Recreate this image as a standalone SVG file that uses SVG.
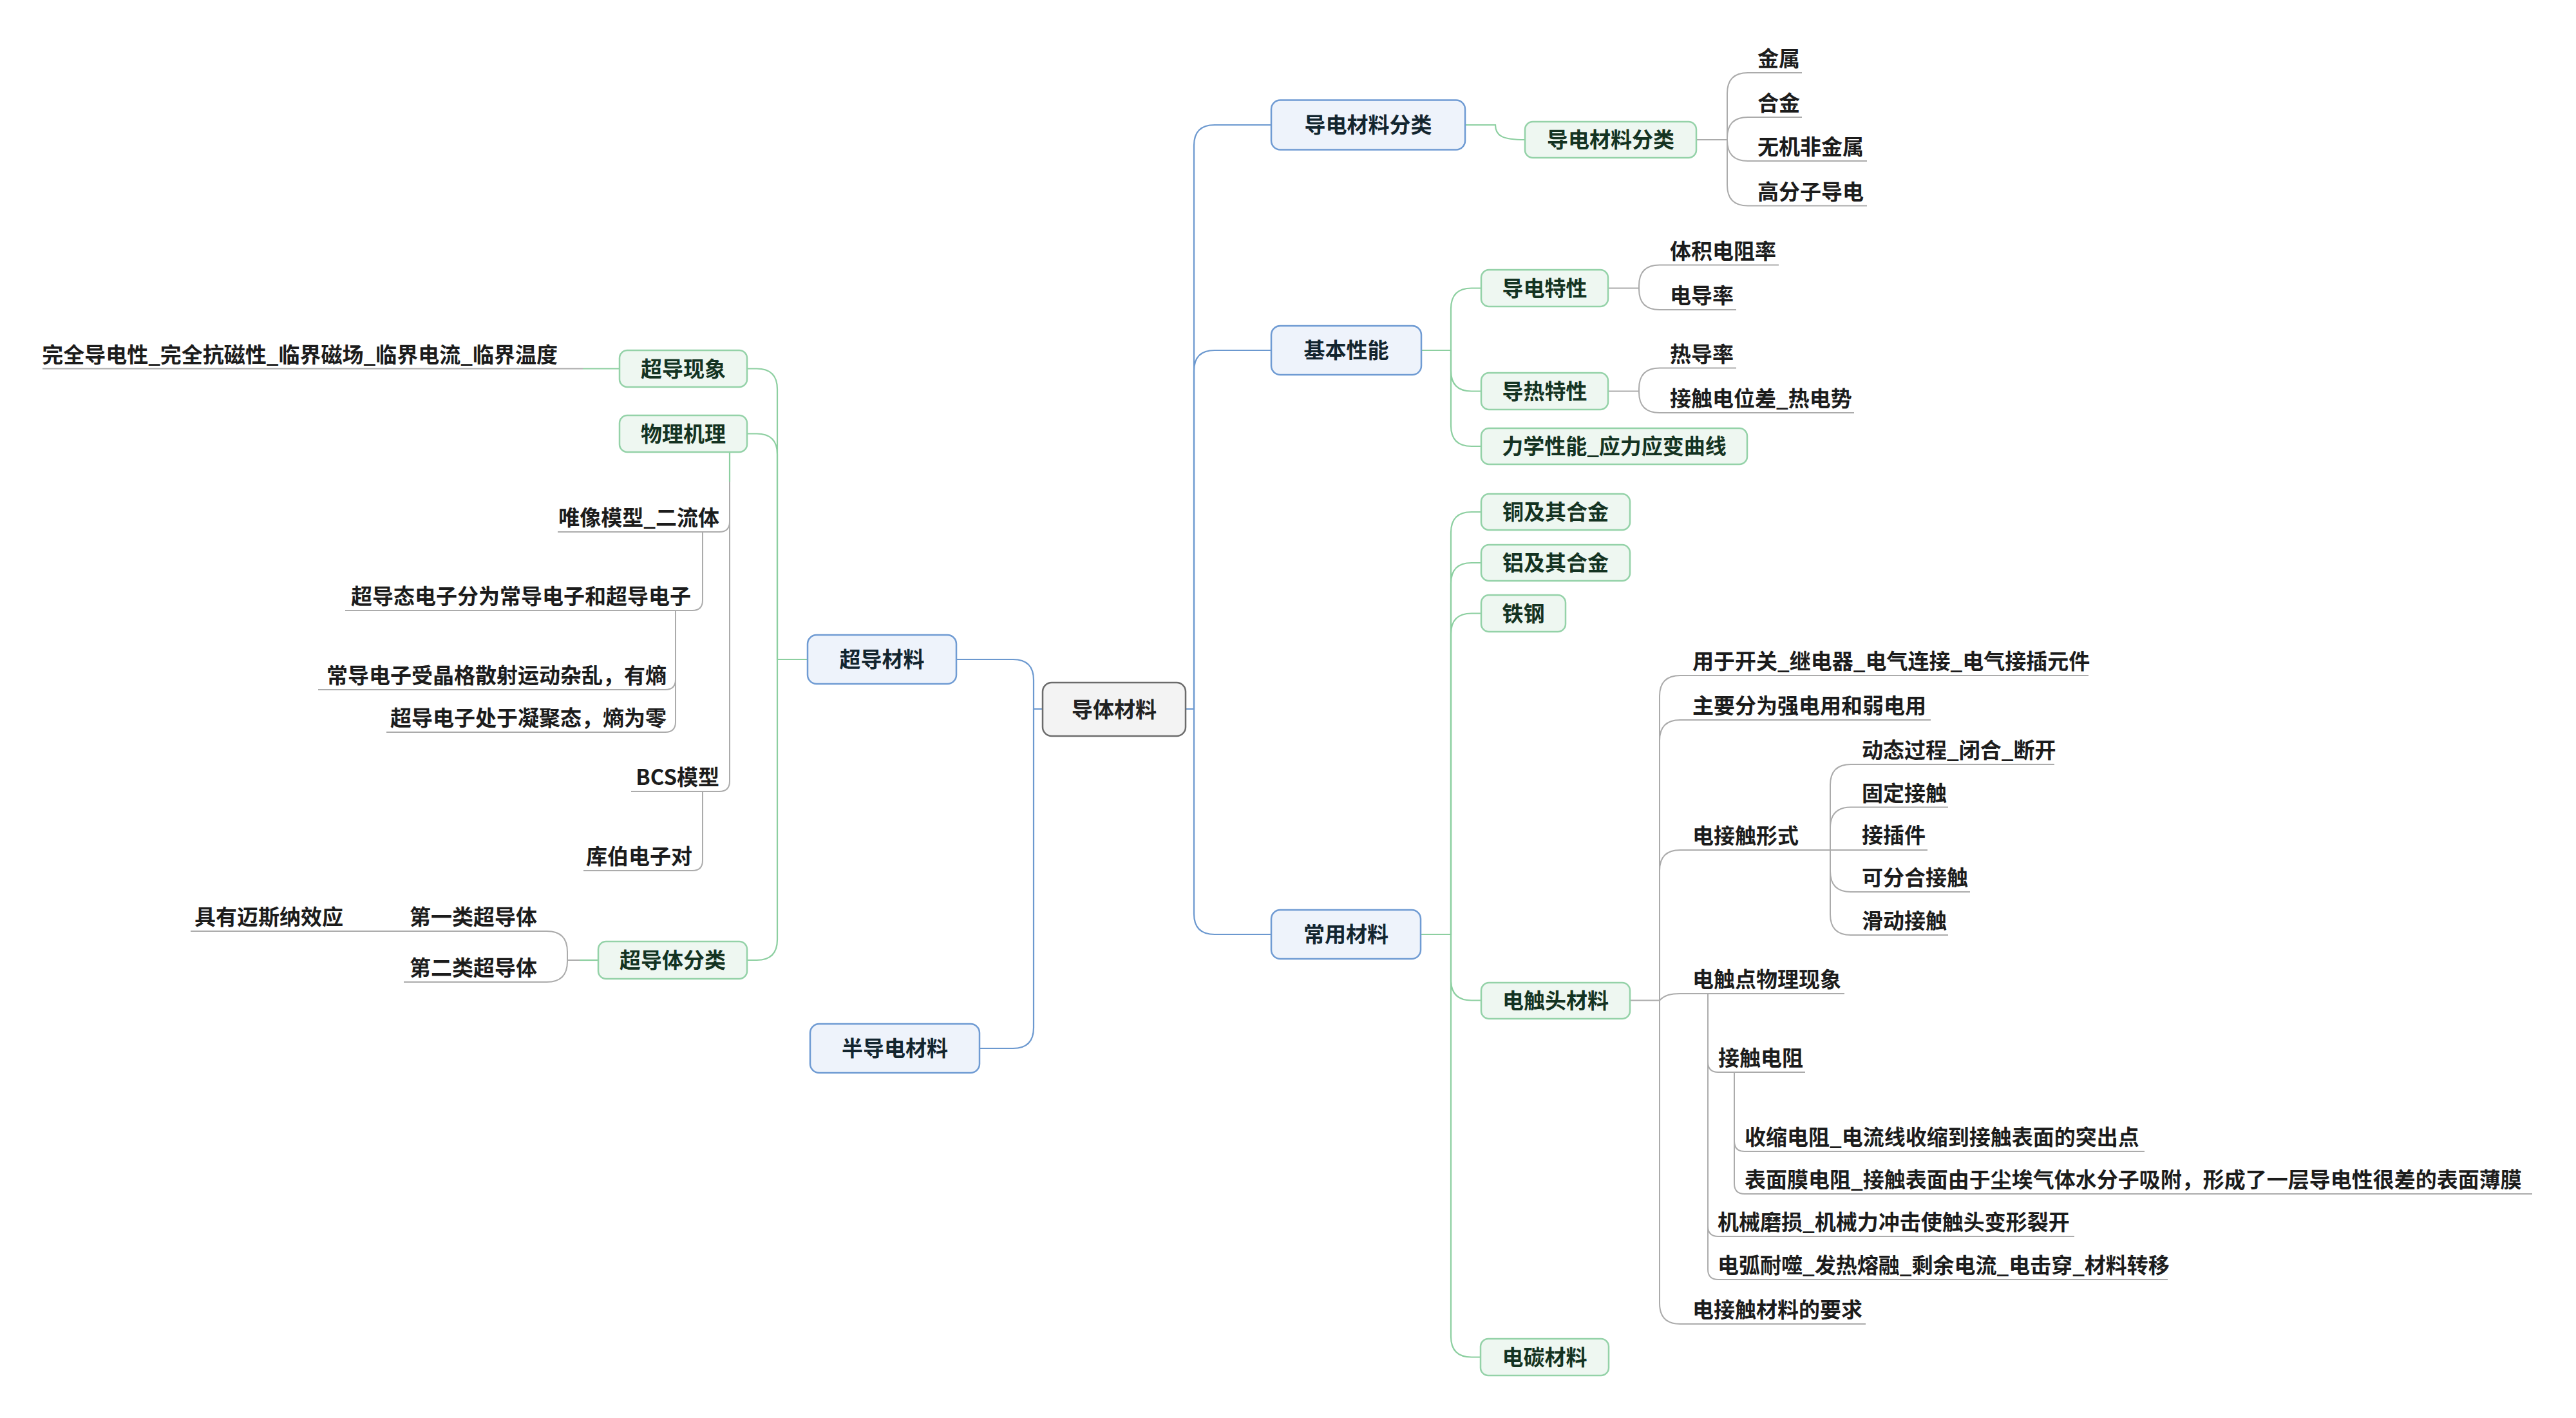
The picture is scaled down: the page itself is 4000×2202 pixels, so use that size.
<svg xmlns="http://www.w3.org/2000/svg" width="4000" height="2202" viewBox="0 0 4000 2202">
<style>
text{font-family:"Noto Sans CJK SC","Noto Sans",sans-serif;font-weight:700;font-size:33px}
.root rect{fill:#f3f3f3;stroke:#6b6b6b;stroke-width:2.5}
.root text{fill:#222;text-anchor:middle}
.blue rect{fill:#eef3fb;stroke:#6f9bd3;stroke-width:2.5}
.blue text{fill:#13252f;text-anchor:middle}
.green rect{fill:#eef7f1;stroke:#94d2a8;stroke-width:2.5}
.green text{fill:#143322;text-anchor:middle}
.leaf text{fill:#1c1c1c}
.leaf.l text{text-anchor:end}
.cb{fill:none;stroke:#6b98cf;stroke-width:2.2}
.cg{fill:none;stroke:#8ccfa0;stroke-width:2.2}
.cy{fill:none;stroke:#ababab;stroke-width:2}
</style>
<g id="connectors">
<path class="cb" d="M1841,1101 H1854 V226 Q1854,194 1886,194 H1974"/>
<path class="cb" d="M1854,1101 V576 Q1854,544 1886,544 H1974"/>
<path class="cb" d="M1854,1101 V1419 Q1854,1451 1886,1451 H1974"/>
<path class="cb" d="M1619,1101 H1605 V1056 Q1605,1024 1573,1024 H1485"/>
<path class="cb" d="M1605,1101 V1596 Q1605,1628 1573,1628 H1521"/>
<path class="cg" d="M2275,194 H2322 C2322,211 2333,217 2368,217"/>
<path class="cg" d="M2207,544 H2253 V479.5 Q2253,447.5 2285,447.5 H2300"/>
<path class="cg" d="M2253,544 V575.5 Q2253,607.5 2285,607.5 H2300"/>
<path class="cg" d="M2253,544 V661 Q2253,693 2285,693 H2300"/>
<path class="cg" d="M2206,1451 H2253 V827 Q2253,795 2285,795 H2300"/>
<path class="cg" d="M2253,1451 V906 Q2253,874 2285,874 H2300"/>
<path class="cg" d="M2253,1451 V984.5 Q2253,952.5 2285,952.5 H2300"/>
<path class="cg" d="M2253,1451 V1521.5 Q2253,1553.5 2285,1553.5 H2300"/>
<path class="cg" d="M2253,1451 V2075.5 Q2253,2107.5 2285,2107.5 H2299"/>
<path class="cg" d="M1254,1024 H1207 V604.5 Q1207,572.5 1175,572.5 H1160"/>
<path class="cg" d="M1207,1024 V705.5 Q1207,673.5 1175,673.5 H1160"/>
<path class="cg" d="M1207,1024 V1459 Q1207,1491 1175,1491 H1160"/>
<path class="cg" d="M962,572.5 H905"/>
<path class="cy" d="M905,572.5 H66"/>
<path class="cy" d="M1133,702 V810 Q1133,826 1117,826 H866"/>
<path class="cy" d="M1133,702 V1213 Q1133,1229 1117,1229 H980"/>
<path class="cg" d="M1133,702 V748"/>
<path class="cy" d="M1091,826 V932 Q1091,948 1075,948 H536"/>
<path class="cy" d="M1049,948 V1055 Q1049,1071 1033,1071 H494"/>
<path class="cy" d="M1049,948 V1121 Q1049,1137 1033,1137 H600"/>
<path class="cy" d="M1091,1229 V1336 Q1091,1352 1075,1352 H906"/>
<path class="cg" d="M929,1491 H900"/>
<path class="cy" d="M900,1491 H881 V1478 Q881,1446 849,1446 H627"/>
<path class="cy" d="M881,1491 V1493 Q881,1525 849,1525 H627"/>
<path class="cy" d="M627,1446 H296"/>
<path class="cy" d="M2634,217 H2682 V145 Q2682,113 2714,113 H2798"/>
<path class="cy" d="M2682,217 V214 Q2682,182 2714,182 H2798"/>
<path class="cy" d="M2682,217 V218 Q2682,250 2714,250 H2899"/>
<path class="cy" d="M2682,217 V287.5 Q2682,319.5 2714,319.5 H2899"/>
<path class="cy" d="M2497,447.5 H2545 V443.5 Q2545,411.5 2577,411.5 H2762"/>
<path class="cy" d="M2545,447.5 V449 Q2545,481 2577,481 H2696"/>
<path class="cy" d="M2497,607.5 H2545 V603.6 Q2545,571.6 2577,571.6 H2696"/>
<path class="cy" d="M2545,607.5 V609 Q2545,641 2577,641 H2879"/>
<path class="cy" d="M2531,1553.5 H2577 V1081 Q2577,1049 2609,1049 H3243"/>
<path class="cy" d="M2577,1553.5 V1150 Q2577,1118 2609,1118 H2998"/>
<path class="cy" d="M2577,1553.5 V1352 Q2577,1320 2609,1320 H2842"/>
<path class="cy" d="M2577,1553.5 C2585,1545 2595,1543 2609,1543 H2864"/>
<path class="cy" d="M2577,1553.5 V2024 Q2577,2056 2609,2056 H2897"/>
<path class="cy" d="M2842,1320 V1219 Q2842,1187 2874,1187 H3190"/>
<path class="cy" d="M2842,1320 V1285.5 Q2842,1253.5 2874,1253.5 H3025"/>
<path class="cy" d="M2842,1320 H2993"/>
<path class="cy" d="M2842,1320 V1353 Q2842,1385 2874,1385 H3059"/>
<path class="cy" d="M2842,1320 V1420 Q2842,1452 2874,1452 H3025"/>
<path class="cy" d="M2652,1543 V1649 Q2652,1665 2668,1665 H2803"/>
<path class="cy" d="M2652,1543 V1904 Q2652,1920 2668,1920 H3221"/>
<path class="cy" d="M2652,1543 V1971 Q2652,1987 2668,1987 H3366"/>
<path class="cy" d="M2693,1665 V1772 Q2693,1788 2709,1788 H3330"/>
<path class="cy" d="M2693,1665 V1838 Q2693,1854 2709,1854 H3932"/>
</g>
<g id="n-root" class="root"><rect x="1619" y="1060" width="222" height="83" rx="14"/><text x="1730" y="1113.5">导体材料</text></g>
<g id="n-a" class="blue"><rect x="1974" y="155.5" width="301" height="77" rx="14"/><text x="2124.5" y="206">导电材料分类</text></g>
<g id="n-b" class="blue"><rect x="1974" y="506" width="233" height="76" rx="14"/><text x="2090.5" y="556">基本性能</text></g>
<g id="n-c" class="blue"><rect x="1974" y="1413" width="232" height="76" rx="14"/><text x="2090" y="1463">常用材料</text></g>
<g id="n-d" class="blue"><rect x="1254" y="986" width="231" height="76" rx="14"/><text x="1369.5" y="1036">超导材料</text></g>
<g id="n-e" class="blue"><rect x="1258" y="1590" width="263" height="76" rx="14"/><text x="1389.5" y="1640">半导电材料</text></g>
<g id="n-a1" class="green"><rect x="2368" y="189" width="266" height="56" rx="12"/><text x="2501" y="229">导电材料分类</text></g>
<g id="n-b1" class="green"><rect x="2300" y="419" width="197" height="57" rx="12"/><text x="2398.5" y="460">导电特性</text></g>
<g id="n-b2" class="green"><rect x="2300" y="579" width="197" height="57" rx="12"/><text x="2398.5" y="620">导热特性</text></g>
<g id="n-b3" class="green"><rect x="2300" y="665" width="413" height="56" rx="12"/><text x="2506.5" y="705">力学性能_应力应变曲线</text></g>
<g id="n-c1" class="green"><rect x="2300" y="767" width="231" height="56" rx="12"/><text x="2415.5" y="807">铜及其合金</text></g>
<g id="n-c2" class="green"><rect x="2300" y="846" width="231" height="56" rx="12"/><text x="2415.5" y="886">铝及其合金</text></g>
<g id="n-c3" class="green"><rect x="2300" y="924" width="131" height="57" rx="12"/><text x="2365.5" y="965">铁钢</text></g>
<g id="n-c4" class="green"><rect x="2300" y="1526" width="231" height="56" rx="12"/><text x="2415.5" y="1566">电触头材料</text></g>
<g id="n-c5" class="green"><rect x="2299" y="2079" width="199" height="57" rx="12"/><text x="2398.5" y="2120">电碳材料</text></g>
<g id="n-d1" class="green"><rect x="962" y="544" width="198" height="57" rx="12"/><text x="1061" y="585">超导现象</text></g>
<g id="n-d2" class="green"><rect x="962" y="645" width="198" height="57" rx="12"/><text x="1061" y="686">物理机理</text></g>
<g id="n-d3" class="green"><rect x="929" y="1462" width="231" height="58" rx="12"/><text x="1044.5" y="1503">超导体分类</text></g>
<g id="leaves-right" class="leaf">
<g id="t-jinshu"><text x="2729" y="103">金属</text></g>
<g id="t-hejin"><text x="2729" y="172">合金</text></g>
<g id="t-wuji"><text x="2729" y="240">无机非金属</text></g>
<g id="t-gaofenzi"><text x="2729" y="309.5">高分子导电</text></g>
<g id="t-tiji"><text x="2593" y="401.5">体积电阻率</text></g>
<g id="t-diandao"><text x="2593" y="471">电导率</text></g>
<g id="t-redao"><text x="2593" y="561.6">热导率</text></g>
<g id="t-jiechu"><text x="2593" y="631">接触电位差_热电势</text></g>
<g id="t-yongyu"><text x="2628" y="1039">用于开关_继电器_电气连接_电气接插元件</text></g>
<g id="t-zhuyao"><text x="2628" y="1108">主要分为强电用和弱电用</text></g>
<g id="t-xingshi"><text x="2628" y="1310">电接触形式</text></g>
<g id="t-dongtai"><text x="2891" y="1177">动态过程_闭合_断开</text></g>
<g id="t-guding"><text x="2891" y="1243.5">固定接触</text></g>
<g id="t-jiecha"><text x="2891" y="1309">接插件</text></g>
<g id="t-kefen"><text x="2891" y="1375">可分合接触</text></g>
<g id="t-huadong"><text x="2891" y="1442">滑动接触</text></g>
<g id="t-xianxiang"><text x="2628" y="1533">电触点物理现象</text></g>
<g id="t-dianzu"><text x="2668" y="1655">接触电阻</text></g>
<g id="t-shousuo"><text x="2709" y="1778">收缩电阻_电流线收缩到接触表面的突出点</text></g>
<g id="t-biaomian"><text x="2709" y="1844">表面膜电阻_接触表面由于尘埃气体水分子吸附，形成了一层导电性很差的表面薄膜</text></g>
<g id="t-jixie"><text x="2667" y="1910">机械磨损_机械力冲击使触头变形裂开</text></g>
<g id="t-danhu"><text x="2667" y="1977">电弧耐噬_发热熔融_剩余电流_电击穿_材料转移</text></g>
<g id="t-yaoqiu"><text x="2628" y="2046">电接触材料的要求</text></g>
</g>
<g id="leaves-left" class="leaf l">
<g id="t-wanquan"><text x="866" y="562.5">完全导电性_完全抗磁性_临界磁场_临界电流_临界温度</text></g>
<g id="t-weixiang"><text x="1117" y="816">唯像模型_二流体</text></g>
<g id="t-chaodaotai"><text x="1073" y="938">超导态电子分为常导电子和超导电子</text></g>
<g id="t-changdao"><text x="1035" y="1061">常导电子受晶格散射运动杂乱，有熵</text></g>
<g id="t-ningju"><text x="1035" y="1127">超导电子处于凝聚态，熵为零</text></g>
<g id="t-bcs"><text x="1117" y="1219">BCS模型</text></g>
<g id="t-kubo"><text x="1075" y="1342">库伯电子对</text></g>
<g id="t-diyi"><text x="834" y="1436">第一类超导体</text></g>
<g id="t-dier"><text x="834" y="1515">第二类超导体</text></g>
<g id="t-maisi"><text x="533" y="1436">具有迈斯纳效应</text></g>
</g>
</svg>
